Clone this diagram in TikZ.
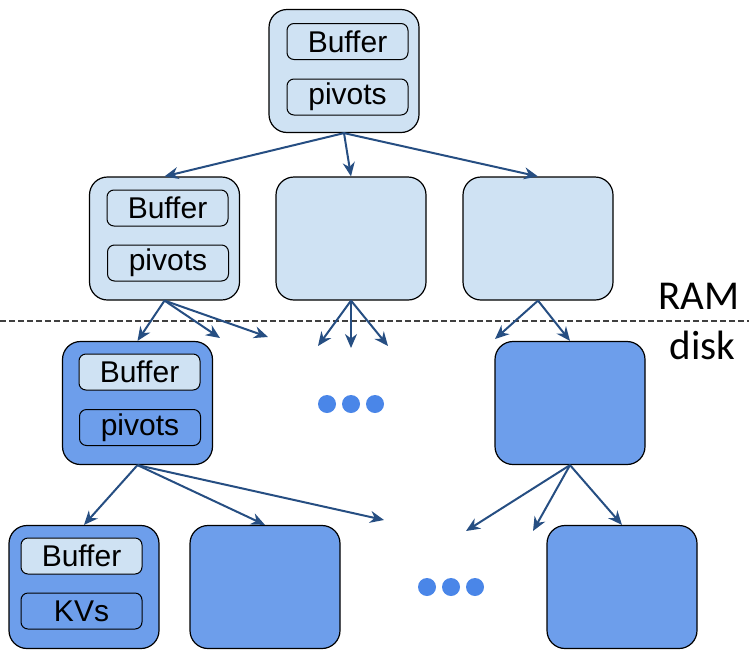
\documentclass[tikz,border=0pt]{standalone}
\usepackage{fontspec}
\newfontfamily\fieldfont{Liberation Sans}
\newfontfamily\labelfont{Carlito}
\usetikzlibrary{arrows.meta}
\definecolor{ramfill}{HTML}{CFE2F3}
\definecolor{diskfill}{HTML}{6D9EEB}
\definecolor{dotfill}{HTML}{4A86E8}
\definecolor{ptrblue}{RGB}{38,78,130}

\begin{document}
\begin{tikzpicture}[x=1pt,y=-1pt,
  treebox/.style={draw,line width=1.2pt,rounded corners=18pt,minimum width=150pt,minimum height=123pt,inner sep=0pt},
  rambox/.style={treebox,fill=ramfill},
  diskbox/.style={treebox,fill=diskfill},
  fieldbox/.style={draw,line width=1pt,rounded corners=7pt,minimum width=121pt,minimum height=36pt,inner sep=0pt,font=\fieldfont\fontsize{30}{36}\selectfont},
  ptr/.style={draw=ptrblue,line width=2pt,-{Stealth[length=14pt,width=12pt]}},
]
\useasboundingbox (0,0) rectangle (749,659);
% RAM / disk boundary
\draw[dash pattern=on 6pt off 3pt,line width=1.1pt,black!75] (0,321) -- (749,321);
\node[anchor=base east,font=\labelfont\fontsize{41}{48}\selectfont] (ram) at (743,309) {RAM};
\node[anchor=base east,font=\labelfont\fontsize{41}{48}\selectfont] (disk) at (739,359) {disk};
% root
\node[rambox] (root) at (344,71) {};
\node[fieldbox,fill=ramfill] (rootbuf) at (347.5,41.5) {Buffer};
\node[fieldbox,fill=ramfill] (rootpiv) at (347.5,97) {pivots};
% level 1 (in RAM)
\node[rambox] (ina) at (164.5,238.5) {};
\node[rambox] (inb) at (351,238.5) {};
\node[rambox] (inc) at (538,238.5) {};
\node[fieldbox,fill=ramfill] (inabuf) at (167.5,208) {Buffer};
\node[fieldbox,fill=ramfill] (inapiv) at (168,263) {pivots};
% level 2 (on disk)
\node[diskbox] (mida) at (137.5,403) {};
\node[diskbox] (midb) at (570,403) {};
\node[fieldbox,fill=ramfill] (midabuf) at (139.5,372) {Buffer};
\node[fieldbox,fill=diskfill] (midapiv) at (140,427.5) {pivots};
% leaves
\node[diskbox] (leafa) at (84,587) {};
\node[diskbox] (leafb) at (265,587) {};
\node[diskbox] (leafc) at (622,587) {};
\node[fieldbox,fill=ramfill] (leafabuf) at (81.5,556) {Buffer};
\node[fieldbox,fill=diskfill] (leafakv) at (81.5,611) {KVs};
% elided children
\foreach \x in {327,351,375}{ \fill[dotfill] (\x,404) circle (9pt); }
\foreach \x in {427,451,475}{ \fill[dotfill] (\x,587) circle (9pt); }
% free arrow ends
\coordinate (ea) at (220,338);
\coordinate (eb) at (268,337);
\coordinate (fa) at (318,346);
\coordinate (fb) at (351,348);
\coordinate (fc) at (388,346);
\coordinate (ga) at (495,339);
\coordinate (ha) at (384,520);
\coordinate (ka) at (466,531);
\coordinate (kb) at (533,531);
% pointers
\draw[ptr] (root.south) -- (ina.north);
\draw[ptr] (root.south) -- (inb.north);
\draw[ptr] (root.south) -- (inc.north);
\draw[ptr] (ina.south) -- (mida.north);
\draw[ptr] (ina.south) -- (ea);
\draw[ptr] (ina.south) -- (eb);
\foreach \t in {fa,fb,fc}{ \draw[ptr] (inb.south) -- (\t); }
\draw[ptr] (inc.south) -- (ga);
\draw[ptr] (inc.south) -- (midb.north);
\draw[ptr] (mida.south) -- (leafa.north);
\draw[ptr] (mida.south) -- (leafb.north);
\draw[ptr] (mida.south) -- (ha);
\draw[ptr] (midb.south) -- (ka);
\draw[ptr] (midb.south) -- (kb);
\draw[ptr] (midb.south) -- (leafc.north);
\end{tikzpicture}
\end{document}
